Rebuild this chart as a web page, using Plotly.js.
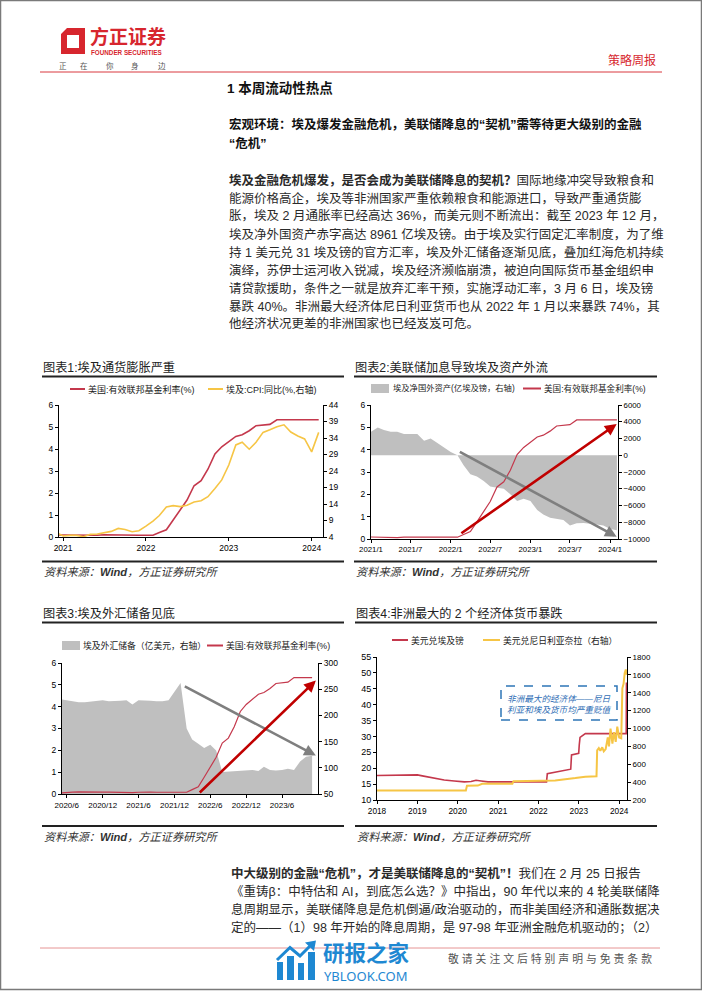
<!DOCTYPE html>
<html>
<head>
<meta charset="utf-8">
<script src="https://cdn.plot.ly/plotly-3.0.1.min.js"></script>
<style>
  html, body { margin: 0; padding: 0; background: #fff; }
  #page { width: 702px; height: 991px; }
</style>
</head>
<body>
<div id="page"></div>
<script>
// ---- chart 1: fed funds rate vs Egypt CPI (monthly) ----
const c1Months = ['2020-12',
  '2021-01','2021-02','2021-03','2021-04','2021-05','2021-06','2021-07','2021-08','2021-09','2021-10','2021-11','2021-12',
  '2022-01','2022-02','2022-03','2022-04','2022-05','2022-06','2022-07','2022-08','2022-09','2022-10','2022-11','2022-12',
  '2023-01','2023-02','2023-03','2023-04','2023-05','2023-06','2023-07','2023-08','2023-09','2023-10','2023-11','2023-12',
  '2024-01','2024-02'];
const c1FedRate = [0.09,
  0.09,0.08,0.07,0.07,0.06,0.08,0.10,0.09,0.08,0.08,0.08,0.08,
  0.08,0.08,0.20,0.33,0.77,1.21,1.68,2.33,2.56,3.08,3.78,4.10,
  4.33,4.57,4.65,4.83,5.06,5.08,5.12,5.33,5.33,5.33,5.33,5.33,
  5.33,5.33];
const c1EgyptCpi = [5.4,
  4.3,4.5,4.5,4.1,4.8,4.9,5.4,5.7,6.6,6.3,5.6,5.9,
  7.3,8.8,10.5,13.1,13.5,13.2,13.6,14.6,15.0,16.2,18.7,21.3,
  25.8,31.9,32.7,30.6,32.7,35.7,36.5,37.4,38.0,35.8,34.6,33.7,
  29.8,35.7];
const c1Ticks = ['2021-01-01','2022-01-01','2023-01-01','2024-01-01'];
const c1TickText = ['2021','2022','2023','2024'];

// ---- chart 2: Egypt net foreign assets (亿埃及镑) vs fed funds rate ----
const c2Months = c1Months.slice(1);
const c2NetForeignAssets = [
  2800,3300,3000,2800,2800,2530,2530,2530,1730,2000,1470,930,
  400,0,-1200,-2270,-2530,-3070,-3730,-3870,-4000,-4670,-5470,-5200,
  -5470,-6530,-7070,-7470,-7600,-7730,-8400,-8130,-8080,-8130,-8270,-8400,
  -8800,-8960];
const c2FedRate = c1FedRate.slice(1);
const c2Ticks = ['2021-01-01','2021-07-01','2022-01-01','2022-07-01','2023-01-01','2023-07-01','2024-01-01'];
const c2TickText = ['2021/1','2021/7','2022/1','2022/7','2023/1','2023/7','2024/1'];

// ---- chart 3: Egypt FX reserves (亿美元) vs fed funds rate ----
const c3Months = ['2020-05','2020-06','2020-07','2020-08','2020-09','2020-10','2020-11','2020-12',
  '2021-01','2021-02','2021-03','2021-04','2021-05','2021-06','2021-07','2021-08','2021-09','2021-10','2021-11','2021-12',
  '2022-01','2022-02','2022-03','2022-04','2022-05','2022-06','2022-07','2022-08','2022-09','2022-10','2022-11','2022-12',
  '2023-01','2023-02','2023-03','2023-04','2023-05','2023-06','2023-07','2023-08','2023-09','2023-10','2023-11'];
const c3Reserves = [231,229,226,225,225,226,227,229,
  227,227,228,229,221,229,229,228,227,227,229,245,
  262,175,154,146,138,144,133,92,93,94,94,95,
  96,94,102,96,95,96,98,96,112,121,123];
const c3FedRate = [0.05,0.08,0.09,0.10,0.09,0.09,0.09,0.09,
  0.09,0.08,0.07,0.07,0.06,0.08,0.10,0.09,0.08,0.08,0.08,0.08,
  0.08,0.08,0.20,0.33,0.77,1.21,1.68,2.33,2.56,3.08,3.78,4.10,
  4.33,4.57,4.65,4.83,5.06,5.08,5.12,5.33,5.33,5.33,5.33];
const c3Ticks = ['2020-06-01','2020-12-01','2021-06-01','2021-12-01','2022-06-01','2022-12-01','2023-06-01'];
const c3TickText = ['2020/6','2020/12','2021/6','2021/12','2022/6','2022/12','2023/6'];

// ---- chart 4: USD/EGP and USD/NGN ----
const egpDates = ['2018-01-01','2018-04-01','2018-05-01','2019-01-01','2019-02-15','2019-04-01','2019-06-01',
  '2019-09-01','2019-12-01','2020-03-01','2020-05-01','2020-06-15','2020-08-01','2020-10-01','2021-06-01',
  '2022-03-15','2022-03-22','2022-06-01','2022-08-01','2022-10-20','2022-10-27','2022-12-31','2023-01-05',
  '2023-01-12','2023-03-01','2024-03-05','2024-03-07'];
const egpRates = [17.7,17.7,17.9,17.9,17.6,17.3,16.8,
  16.3,16.0,15.7,15.8,16.2,16.0,15.7,15.7,
  15.7,18.3,18.8,19.2,19.7,24.2,24.7,27.3,
  29.7,30.9,30.9,47.0];
const ngnDates = ['2018-01-01','2018-07-01','2019-01-01','2019-07-01','2020-01-01','2020-03-15','2020-03-25',
  '2020-07-01','2020-08-10','2020-12-01','2021-05-10','2021-05-20','2021-12-01','2022-06-01','2022-12-01',
  '2023-03-01','2023-06-10','2023-06-16','2023-07-01','2023-07-15','2023-08-01','2023-08-15','2023-09-01',
  '2023-09-20','2023-10-01','2023-10-15','2023-11-01','2023-11-15','2023-12-01','2023-12-15','2024-01-01',
  '2024-01-20','2024-01-30','2024-02-10','2024-02-20','2024-03-01','2024-03-10'];
const ngnRates = [306,306,307,307,307,307,360,
  361,381,381,381,410,415,418,445,
  461,465,755,780,750,790,745,770,
  900,800,1000,830,960,850,1020,900,
  890,1450,1500,1620,1660,1600];
const c4Ticks = ['2018-01-01','2019-01-01','2020-01-01','2021-01-01','2022-01-01','2023-01-01','2024-01-01'];
const c4TickText = ['2018','2019','2020','2021','2022','2023','2024'];

const RED = '#C4384C';
const YELLOW = '#F6C545';
const GRAY = '#BFBFBF';
const FONT = 'Liberation Sans, Noto Sans CJK SC, sans-serif';
const W = 702, H = 991;
const px = x => x / W;
const py = y => 1 - y / H;

function axis(extra, size) {
  return Object.assign({
    showline: true, linecolor: '#000', linewidth: 1,
    ticks: 'outside', ticklen: 3, tickwidth: 1, tickcolor: '#000',
    showgrid: false, zeroline: false, fixedrange: true,
    tickfont: { size: size || 8.5, color: '#000' }
  }, extra);
}

const traces = [
  { x: c1Months, y: c1FedRate, xaxis: 'x', yaxis: 'y', mode: 'lines', line: { color: RED, width: 1.6 } },
  { x: c1Months, y: c1EgyptCpi, xaxis: 'x', yaxis: 'y2', mode: 'lines', line: { color: YELLOW, width: 1.6 } },
  { x: c2Months, y: c2NetForeignAssets, xaxis: 'x2', yaxis: 'y3', mode: 'lines', fill: 'tozeroy',
    fillcolor: GRAY, line: { width: 0, color: GRAY } },
  { x: c2Months, y: c2FedRate, xaxis: 'x2', yaxis: 'y4', mode: 'lines', line: { color: RED, width: 1.2 } },
  { x: c3Months, y: c3Reserves, xaxis: 'x3', yaxis: 'y5', mode: 'lines', fill: 'tozeroy',
    fillcolor: GRAY, line: { width: 0, color: GRAY } },
  { x: c3Months, y: c3FedRate, xaxis: 'x3', yaxis: 'y6', mode: 'lines', line: { color: RED, width: 1.2 } },
  { x: egpDates, y: egpRates, xaxis: 'x4', yaxis: 'y7', mode: 'lines', line: { color: RED, width: 1.6 } },
  { x: ngnDates, y: ngnRates, xaxis: 'x4', yaxis: 'y8', mode: 'lines', line: { color: YELLOW, width: 2 } }
];
traces.forEach(t => { t.hoverinfo = 'skip'; t.showlegend = false; });

const shapes = [];
const annotations = [];

function hline(x0, x1, y, color, width) {
  shapes.push({ type: 'line', xref: 'paper', yref: 'paper', x0: px(x0), x1: px(x1), y0: py(y), y1: py(y),
    line: { color: color, width: width } });
}
function rect(x0, y0, x1, y1, fill, line) {
  shapes.push({ type: 'rect', xref: 'paper', yref: 'paper', x0: px(x0), x1: px(x1), y0: py(y0), y1: py(y1),
    fillcolor: fill, line: line || { width: 0 } });
}
function pathOf(points, close) {
  return 'M' + points.map(p => px(p[0]) + ',' + py(p[1])).join('L') + (close ? 'Z' : '');
}
function text(x, y, s, o) {
  o = o || {};
  annotations.push({
    xref: 'paper', yref: 'paper', x: px(x), y: py(y),
    xanchor: o.anchor || 'left', yanchor: 'middle',
    text: s, showarrow: false, borderpad: 0,
    font: { family: o.family || FONT, size: o.size || 12.5, color: o.color || '#222',
      style: o.italic ? 'italic' : 'normal', weight: o.bold ? 'bold' : 'normal' }
  });
}
function arrow(xa, ya, tail, head, color) {
  annotations.push({ xref: xa, yref: ya, axref: xa, ayref: ya,
    x: head[0], y: head[1], ax: tail[0], ay: tail[1], text: '',
    showarrow: true, arrowhead: 2, arrowsize: 0.9, arrowwidth: 2.6, arrowcolor: color, standoff: 0 });
}

// page frame
shapes.push({ type: 'rect', xref: 'paper', yref: 'paper', x0: px(0.5), x1: px(701.5), y0: py(989.5), y1: py(0.5),
  line: { color: '#7a7a7a', width: 1.5 } });

// header: logo
shapes.push({ type: 'path', xref: 'paper', yref: 'paper', fillrule: 'evenodd', fillcolor: '#D7262E', line: { width: 0 },
  path: pathOf([[61, 34], [67, 28], [85, 28], [85, 54], [61, 54]], true) + ' ' +
        pathOf([[67, 35], [79, 35], [79, 48], [67, 48]], true) });
text(89, 37, '<b>方正证券</b>', { size: 19, color: '#D7262E' });
text(90, 52.5, '<b>FOUNDER SECURITIES</b>', { size: 6.3, color: '#D7262E' });
[['正', 63], ['在', 84], ['你', 110], ['身', 135], ['边', 162]].forEach(c =>
  text(c[1], 66.5, c[0], { size: 7.5, color: '#555', anchor: 'center' }));
text(657, 61, '策略周报', { size: 12, color: '#D7262E', anchor: 'right' });
hline(40, 662, 72, '#D9393E', 1);

text(226, 88, '<b>1 本周流动性热点</b>', { size: 13.5, color: '#111' });

// first text block
text(228, 125, '<b>宏观环境：埃及爆发金融危机，美联储降息的“契机”需等待更大级别的金融</b>', { color: '#111' });
text(228, 143, '<b>“危机”</b>', { color: '#111' });
const bodyLines = [
  '<b>埃及金融危机爆发，是否会成为美联储降息的契机？</b>国际地缘冲突导致粮食和',
  '能源价格高企，埃及等非洲国家严重依赖粮食和能源进口，导致严重通货膨',
  '胀，埃及 2 月通胀率已经高达 36%，而美元则不断流出：截至 2023 年 12 月，',
  '埃及净外国资产赤字高达 8961 亿埃及镑。由于埃及实行固定汇率制度，为了维',
  '持 1 美元兑 31 埃及镑的官方汇率，埃及外汇储备逐渐见底，叠加红海危机持续',
  '演绎，苏伊士运河收入锐减，埃及经济濒临崩溃，被迫向国际货币基金组织申',
  '请贷款援助，条件之一就是放弃汇率干预，实施浮动汇率，3 月 6 日，埃及镑',
  '暴跌 40%。非洲最大经济体尼日利亚货币也从 2022 年 1 月以来暴跌 74%，其',
  '他经济状况更差的非洲国家也已经岌岌可危。'
];
bodyLines.forEach((s, i) => text(228, 180 + i * 18, s, { color: '#2a2a2a' }));

// chart frames, titles, sources
[[42, 344, 367, 376.5, 561.5, 572, '图表1:埃及通货膨胀严重'],
 [354, 657, 367, 376.5, 561.5, 572, '图表2:美联储加息导致埃及资产外流'],
 [42, 344, 613, 622.5, 826, 836.5, '图表3:埃及外汇储备见底'],
 [355, 657, 613, 622.5, 826, 836.5, '图表4:非洲最大的 2 个经济体货币暴跌']].forEach(f => {
  text(f[0], f[2], f[6], { size: 12.2, color: '#222' });
  hline(f[0], f[1], f[3], '#222', 2);
  hline(f[0], f[1], f[4], '#222', 2);
  text(f[0] + 1, f[5], '资料来源：<b>Wind</b>，方正证券研究所', { size: 11.2, color: '#333', italic: true });
});

// legends
hline(70, 85, 389, RED, 2);
text(87, 389, '美国:有效联邦基金利率(%)', { size: 9 });
hline(208, 223, 389, YELLOW, 2);
text(225, 389, '埃及:CPI:同比(%,右轴)', { size: 9 });

rect(371, 384, 389, 393, GRAY);
text(392, 388.5, '埃及净国外资产(亿埃及镑，右轴)', { size: 8.3 });
hline(523, 541, 388.5, RED, 2);
text(543, 388.5, '美国:有效联邦基金利率(%)', { size: 8.6 });

rect(62, 641, 80, 650, GRAY);
text(82, 645.5, '埃及外汇储备（亿美元，右轴）', { size: 8.8 });
hline(207, 223, 645.5, RED, 2);
text(225, 645.5, '美国:有效联邦基金利率(%)', { size: 8.8 });

hline(392, 408, 640, RED, 2);
text(410, 640, '美元兑埃及镑', { size: 8.8 });
hline(483, 500, 640, YELLOW, 2);
text(502, 640, '美元兑尼日利亚奈拉（右轴）', { size: 8.8 });

// trend arrows
arrow('x2', 'y4', ['2022-02-05', 3.94], ['2024-01-31', 0.1], '#7F7F7F');
arrow('x2', 'y4', ['2022-02-12', 0.21], ['2024-01-31', 5.15], '#C00000');
arrow('x3', 'y6', ['2022-01-15', 4.97], ['2023-11-20', 1.76], '#7F7F7F');
arrow('x3', 'y6', ['2022-04-01', 0.0], ['2023-11-20', 5.2], '#C00000');

// chart 4 call-out box
shapes.push({ type: 'rect', xref: 'paper', yref: 'paper', x0: px(501), x1: px(617), y0: py(720), y1: py(686),
  fillcolor: 'rgba(0,0,0,0)', line: { color: '#2E75B6', width: 1.5, dash: 'dash' } });
text(559, 698.5, '非洲最大的经济体——尼日', { size: 8.6, color: '#2F6EB5', italic: true, anchor: 'center' });
text(559, 710, '利亚和埃及货币均严重贬值', { size: 8.6, color: '#2F6EB5', italic: true, anchor: 'center' });

// second text block
const tailLines = [
  '<b>中大级别的金融“危机”，才是美联储降息的“契机”！</b>我们在 2 月 25 日报告',
  '《重铸β：中特估和 AI，到底怎么选？》中指出，90 年代以来的 4 轮美联储降',
  '息周期显示，美联储降息是危机倒逼/政治驱动的，而非美国经济和通胀数据决',
  '定的——（1）98 年开始的降息周期，是 97-98 年亚洲金融危机驱动的；（2）'
];
tailLines.forEach((s, i) => text(230, 873 + i * 18.3, s, { color: '#2a2a2a' }));

// footer
hline(40, 660, 948, '#E07A7A', 0.8);
const BLUE = '#1E88D2';
[[277, 283, 962], [287, 294, 956], [298, 304, 963], [308, 315, 952]].forEach(b => rect(b[0], b[2], b[1], 980, BLUE));
shapes.push({ type: 'path', xref: 'paper', yref: 'paper', line: { color: BLUE, width: 3 },
  path: pathOf([[277, 960], [290, 947.5], [300, 956], [311, 945]], false) });
shapes.push({ type: 'path', xref: 'paper', yref: 'paper', fillcolor: BLUE, line: { width: 0 },
  path: pathOf([[305, 942.5], [316, 940.5], [314, 951]], true) });
text(322, 953.5, '研报之家', { size: 21.5, color: BLUE, bold: true });
text(323, 976, 'YBLOOK.COM', { size: 13, color: BLUE, family: 'Noto Sans, sans-serif' });
text(447, 958, '敬 请 关 注 文 后 特 别 声 明 与 免 责 条 款', { size: 10.8, color: '#555' });

const layout = {
  width: W, height: H,
  margin: { l: 0, r: 0, t: 0, b: 0 },
  paper_bgcolor: '#fff', plot_bgcolor: 'rgba(0,0,0,0)',
  showlegend: false,
  font: { family: FONT, color: '#000' },
  xaxis: axis({ domain: [px(59), px(323)], anchor: 'y', range: ['2020-12-14', '2024-02-20'],
    tickmode: 'array', tickvals: c1Ticks, ticktext: c1TickText }),
  yaxis: axis({ domain: [py(537), py(405)], anchor: 'x', range: [0, 6], dtick: 1 }),
  yaxis2: axis({ overlaying: 'y', side: 'right', anchor: 'x', range: [4, 44], tick0: 4, dtick: 5 }),

  xaxis2: axis({ domain: [px(371), px(618)], anchor: 'y3', range: ['2021-01-01', '2024-02-06'],
    tickmode: 'array', tickvals: c2Ticks, ticktext: c2TickText }, 7.8),
  yaxis3: axis({ domain: [py(539), py(405)], anchor: 'x2', side: 'right', range: [-10000, 6000],
    dtick: 2000, tickformat: 'd' }, 7.8),
  yaxis4: axis({ overlaying: 'y3', side: 'left', anchor: 'x2', range: [0, 6], dtick: 1 }),

  xaxis3: axis({ domain: [px(62), px(318)], anchor: 'y5', range: ['2020-05-08', '2023-12-01'],
    tickmode: 'array', tickvals: c3Ticks, ticktext: c3TickText }, 8),
  yaxis5: axis({ domain: [py(794), py(663)], anchor: 'x3', side: 'right', range: [50, 300], dtick: 50 }),
  yaxis6: axis({ overlaying: 'y5', side: 'left', anchor: 'x3', range: [0, 6], dtick: 1 }),

  xaxis4: axis({ domain: [px(377), px(627)], anchor: 'y7', range: ['2018-01-01', '2024-03-12'],
    tickmode: 'array', tickvals: c4Ticks, ticktext: c4TickText }, 8.3),
  yaxis7: axis({ domain: [py(800), py(657)], anchor: 'x4', side: 'left', range: [10, 55], dtick: 5 }, 9),
  yaxis8: axis({ overlaying: 'y7', side: 'right', anchor: 'x4', range: [200, 1800], dtick: 200,
    tickformat: 'd' }, 8),

  shapes: shapes,
  annotations: annotations
};

Plotly.newPlot('page', traces, layout, { staticPlot: true, displayModeBar: false });
</script>
</body>
</html>
